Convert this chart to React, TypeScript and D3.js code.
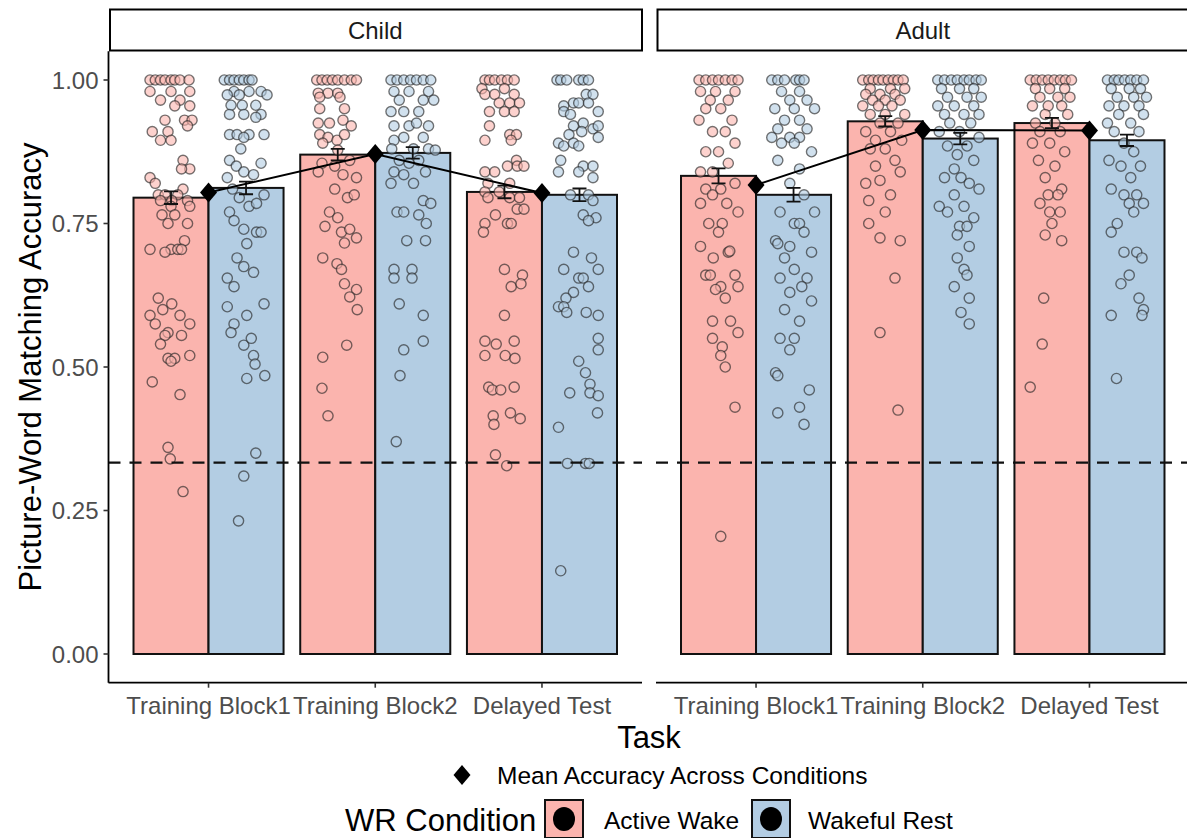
import React from "react";
import * as d3 from "d3";

// ---- data ----
const facets = ["Child", "Adult"];
const tasks = ["Training Block1", "Training Block2", "Delayed Test"];
const conditions = ["Active Wake", "Wakeful Rest"];
const conditionColors = ["#FBB4AE", "#B3CDE3"];

// condition means per task (Training Block1, Training Block2, Delayed Test)
const childActiveMean = [0.795, 0.87, 0.805];
const childRestMean = [0.812, 0.873, 0.8];
const adultActiveMean = [0.833, 0.928, 0.925];
const adultRestMean = [0.8, 0.898, 0.895];

// standard errors
const childActiveSE = [0.011, 0.01, 0.011];
const childRestSE = [0.011, 0.01, 0.011];
const adultActiveSE = [0.013, 0.009, 0.009];
const adultRestSE = [0.012, 0.01, 0.01];

// mean accuracy across conditions
const childOverallMean = [0.804, 0.871, 0.803];
const adultOverallMean = [0.817, 0.913, 0.912];

const chanceLevel = 1 / 3;
const yTicks = [0, 0.25, 0.5, 0.75, 1];

// participant scores: [jitter (fraction of bar width), accuracy]
type Pt = [number, number];

const childB1Active: Pt[] = [
  [-0.28, 1], [-0.21, 1], [-0.14, 1], [-0.08, 1], [0, 1], [0.05, 1], [0.12, 1], [0.24, 1],
  [-0.28, 0.98], [0, 0.98], [0.25, 0.98], [-0.14, 0.965], [0.12, 0.965], [0.25, 0.955], [0.05, 0.955],
  [-0.08, 0.93], [0.18, 0.93], [0.28, 0.93], [0.22, 0.92], [-0.25, 0.91], [-0.04, 0.91],
  [-0.14, 0.895], [0, 0.895], [0.16, 0.86], [0.25, 0.845], [0.14, 0.845], [-0.28, 0.83], [-0.21, 0.82],
  [0.16, 0.81], [-0.17, 0.8], [-0.08, 0.8], [0.09, 0.8], [0.01, 0.79], [0.22, 0.79], [-0.14, 0.79],
  [0, 0.78], [0.25, 0.78], [0.05, 0.765], [-0.12, 0.765], [-0.04, 0.75], [0.22, 0.75], [0.18, 0.72],
  [0, 0.705], [0.09, 0.705], [0.14, 0.705], [-0.28, 0.705], [-0.08, 0.7],
  [-0.17, 0.62], [0.01, 0.61], [-0.11, 0.6], [0.12, 0.59], [-0.28, 0.59], [-0.21, 0.575], [0.25, 0.575],
  [-0.04, 0.56], [-0.08, 0.555], [0.14, 0.555], [-0.14, 0.54], [0.25, 0.52], [-0.04, 0.515], [0.05, 0.515],
  [0, 0.51], [-0.25, 0.474], [0.12, 0.452], [-0.04, 0.36], [-0.01, 0.34], [0.16, 0.283],
];

const childB1Rest: Pt[] = [
  [-0.29, 1], [-0.22, 1], [-0.16, 1], [-0.09, 1], [-0.03, 1], [0.04, 1], [0.08, 1],
  [-0.16, 0.98], [0.2, 0.98], [0.04, 0.98], [-0.09, 0.974], [0.28, 0.974], [-0.25, 0.974],
  [-0.05, 0.956], [0.13, 0.956], [-0.2, 0.956], [-0.22, 0.94], [-0.03, 0.94], [0.2, 0.94], [0.13, 0.935],
  [-0.22, 0.905], [-0.12, 0.905], [0.04, 0.905], [0.24, 0.905], [-0.03, 0.9], [-0.07, 0.88],
  [-0.22, 0.86], [-0.13, 0.85], [-0.03, 0.84], [0.2, 0.855], [0.1, 0.835], [-0.25, 0.83],
  [-0.18, 0.81], [-0.09, 0.795], [0.24, 0.8], [0.04, 0.78], [0.14, 0.785], [-0.22, 0.77],
  [-0.16, 0.755], [-0.03, 0.74], [0.14, 0.735], [0.2, 0.735], [0.01, 0.715],
  [-0.12, 0.69], [-0.03, 0.675], [0.1, 0.665], [-0.25, 0.655], [-0.16, 0.64],
  [-0.25, 0.605], [0.24, 0.61], [0.01, 0.59], [-0.16, 0.575], [-0.2, 0.56],
  [-0.03, 0.538], [0.07, 0.55], [0.1, 0.52], [0.12, 0.505], [0.25, 0.485], [0.01, 0.48],
  [0.13, 0.35], [-0.03, 0.31], [-0.1, 0.232],
];

const childB2Active: Pt[] = [
  [-0.28, 1], [-0.21, 1], [-0.14, 1], [-0.07, 1], [0, 1], [0.09, 1], [0.18, 1], [0.25, 1],
  [-0.26, 0.977], [-0.13, 0.977], [0, 0.977], [-0.24, 0.97], [0.03, 0.97], [0.09, 0.95], [-0.24, 0.95],
  [-0.26, 0.925], [-0.11, 0.925], [0.07, 0.93], [0.18, 0.92],
  [-0.24, 0.905], [-0.13, 0.9], [-0.01, 0.895], [0.09, 0.905], [-0.2, 0.89], [0, 0.878],
  [-0.21, 0.855], [-0.04, 0.85], [0.16, 0.86], [-0.26, 0.84], [0.07, 0.835], [0.25, 0.83],
  [-0.04, 0.81], [0.13, 0.795], [0.22, 0.8], [-0.11, 0.77], [0, 0.76],
  [-0.17, 0.745], [0.05, 0.735], [0.16, 0.74], [0.25, 0.725], [0.09, 0.716],
  [-0.2, 0.69], [-0.01, 0.68], [0.05, 0.67], [0.09, 0.645], [0.25, 0.635], [0.16, 0.622], [0.26, 0.6],
  [0.12, 0.538], [-0.2, 0.517], [-0.21, 0.463], [-0.13, 0.415],
];

const childB2Rest: Pt[] = [
  [-0.29, 1], [-0.21, 1], [-0.12, 1], [-0.03, 1], [0.05, 1], [0.14, 1], [0.24, 1],
  [-0.25, 0.98], [-0.05, 0.98], [0.21, 0.98], [-0.18, 0.965], [0.14, 0.965], [0.28, 0.965],
  [-0.12, 0.945], [0.08, 0.945], [-0.29, 0.945], [-0.25, 0.92], [-0.05, 0.92], [0.21, 0.92], [0.05, 0.925],
  [-0.12, 0.9], [-0.25, 0.895], [0.14, 0.9], [-0.28, 0.88], [0.01, 0.88], [0.21, 0.88], [0.3, 0.878],
  [-0.18, 0.86], [0.08, 0.86], [-0.05, 0.855], [-0.25, 0.84], [-0.12, 0.835], [0.17, 0.84],
  [-0.29, 0.82], [0.01, 0.82], [0.14, 0.79], [0.24, 0.785], [-0.21, 0.77], [-0.12, 0.77], [0.08, 0.765],
  [0.18, 0.75], [-0.08, 0.72], [0.17, 0.72], [-0.25, 0.67], [-0.01, 0.67], [-0.25, 0.655], [-0.01, 0.655],
  [-0.18, 0.61], [0.14, 0.59], [0.14, 0.545], [-0.12, 0.53], [-0.17, 0.485], [-0.22, 0.37],
];

const childDelActive: Pt[] = [
  [-0.26, 1], [-0.2, 1], [-0.13, 1], [-0.04, 1], [0.04, 1], [0.13, 1],
  [-0.3, 0.985], [0, 0.985], [-0.26, 0.975], [-0.13, 0.975], [0.13, 0.975],
  [-0.07, 0.96], [0.07, 0.96], [0.2, 0.96], [0, 0.945], [0.13, 0.945], [-0.2, 0.945], [-0.2, 0.92],
  [0.07, 0.905], [0.16, 0.905], [-0.26, 0.895], [0.09, 0.895], [0.16, 0.86],
  [0.04, 0.85], [0.17, 0.85], [0.26, 0.85], [-0.26, 0.84], [-0.13, 0.84], [0.07, 0.82], [-0.22, 0.82],
  [-0.26, 0.805], [-0.07, 0.805], [-0.22, 0.795], [0.07, 0.795], [0.2, 0.795], [0.17, 0.775], [0.26, 0.775],
  [-0.12, 0.765], [-0.26, 0.75], [0.04, 0.75], [0.09, 0.75], [-0.28, 0.735],
  [0, 0.67], [0.24, 0.66], [0.09, 0.64], [0.22, 0.645], [0, 0.59],
  [-0.26, 0.545], [-0.11, 0.54], [0.13, 0.545], [-0.26, 0.52], [0.01, 0.52], [0.14, 0.515],
  [-0.21, 0.465], [-0.16, 0.46], [-0.05, 0.46], [0.13, 0.465],
  [-0.15, 0.415], [0.08, 0.42], [0.21, 0.41], [-0.14, 0.4], [-0.12, 0.347], [0.03, 0.328],
];

const childDelRest: Pt[] = [
  [-0.3, 1], [-0.25, 1], [-0.17, 1], [-0.01, 1], [0.05, 1], [0.12, 1],
  [0.09, 0.975], [0.18, 0.975], [-0.08, 0.96], [-0.01, 0.96], [-0.21, 0.955], [0.12, 0.96],
  [-0.21, 0.945], [0.25, 0.945], [-0.12, 0.94], [-0.08, 0.92], [0.05, 0.925], [0.18, 0.915], [0.25, 0.92],
  [0.03, 0.91], [-0.14, 0.905], [0.25, 0.9], [-0.28, 0.89], [-0.21, 0.885], [-0.08, 0.89], [-0.01, 0.885],
  [-0.25, 0.86], [0.05, 0.85], [0.18, 0.85], [-0.28, 0.84], [-0.01, 0.84], [0.18, 0.83],
  [-0.12, 0.8], [0.12, 0.8], [0.18, 0.79], [0.05, 0.765], [0.22, 0.76], [0.12, 0.755],
  [-0.08, 0.7], [0.16, 0.69], [-0.21, 0.67], [0.25, 0.67], [-0.01, 0.655], [0.05, 0.655],
  [0.12, 0.64], [-0.08, 0.63], [-0.18, 0.62], [-0.28, 0.605], [-0.21, 0.605],
  [-0.17, 0.595], [0.09, 0.595], [0.25, 0.59], [0.25, 0.55], [0.25, 0.53], [-0.01, 0.51],
  [0.08, 0.49], [0.14, 0.47], [-0.13, 0.455], [0.14, 0.455], [0.25, 0.45], [0.24, 0.42], [-0.28, 0.395],
  [-0.16, 0.332], [0.08, 0.332], [0.13, 0.332], [-0.25, 0.145],
];

const adultB1Active: Pt[] = [
  [-0.26, 1], [-0.17, 1], [-0.08, 1], [0, 1], [0.09, 1], [0.18, 1], [0.26, 1],
  [-0.24, 0.98], [-0.04, 0.98], [0.22, 0.98], [-0.11, 0.965], [0.13, 0.965], [0.03, 0.95], [-0.17, 0.95],
  [-0.26, 0.93], [0.18, 0.93], [-0.08, 0.91], [0.09, 0.91], [0.22, 0.89], [-0.17, 0.875], [0, 0.875],
  [0.13, 0.855], [-0.08, 0.84], [-0.24, 0.84], [0.22, 0.82], [-0.17, 0.81], [0.03, 0.81], [-0.08, 0.8],
  [-0.24, 0.785], [0.11, 0.785], [0.26, 0.77], [-0.13, 0.75], [0.05, 0.75], [0, 0.735],
  [-0.24, 0.71], [0.13, 0.7], [0.15, 0.702], [-0.07, 0.69], [-0.17, 0.66], [-0.11, 0.66], [0.22, 0.66],
  [0.03, 0.64], [0.26, 0.64], [-0.04, 0.635], [0.09, 0.62], [-0.08, 0.58], [0.16, 0.58], [0.26, 0.56],
  [-0.08, 0.55], [0.05, 0.535], [0.03, 0.52], [0.09, 0.5], [0.22, 0.43], [0.03, 0.205],
];

const adultB1Rest: Pt[] = [
  [-0.29, 1], [-0.21, 1], [-0.12, 1], [0.03, 1], [0.08, 1], [0.14, 1],
  [-0.16, 0.98], [0.08, 0.98], [-0.05, 0.965], [0.18, 0.965], [-0.25, 0.95], [0.01, 0.95], [0.28, 0.95],
  [-0.12, 0.93], [0.08, 0.93], [-0.21, 0.915], [0.18, 0.915], [-0.29, 0.9], [-0.05, 0.9], [0.08, 0.9],
  [-0.16, 0.89], [0.01, 0.89], [0.24, 0.875], [-0.21, 0.86], [0.08, 0.845], [-0.05, 0.82], [0.14, 0.8],
  [0.28, 0.77], [-0.18, 0.77], [0.01, 0.75], [0.08, 0.75], [0.14, 0.735], [-0.24, 0.72], [-0.21, 0.715],
  [-0.05, 0.71], [0.24, 0.7], [-0.12, 0.69], [0.01, 0.67], [-0.18, 0.655], [0.18, 0.655], [0.11, 0.64],
  [-0.05, 0.63], [0.24, 0.615], [-0.12, 0.6], [0.08, 0.58], [0.01, 0.55], [-0.18, 0.55], [-0.05, 0.53],
  [-0.24, 0.49], [-0.21, 0.485], [0.21, 0.46], [0.08, 0.43], [-0.21, 0.42], [0.14, 0.4],
];

const adultB2Active: Pt[] = [
  [-0.3, 1], [-0.22, 1], [-0.16, 1], [-0.09, 1], [-0.03, 1], [0.04, 1], [0.11, 1], [0.17, 1], [0.24, 1],
  [-0.2, 0.985], [0.07, 0.985], [0.26, 0.985], [-0.26, 0.975], [-0.07, 0.975], [0.13, 0.975],
  [0, 0.965], [0.2, 0.965], [-0.17, 0.965], [-0.3, 0.955], [0.09, 0.955], [-0.09, 0.955],
  [-0.2, 0.94], [0, 0.94], [0.26, 0.94], [-0.07, 0.925], [0.17, 0.925], [-0.26, 0.91], [0.07, 0.91],
  [-0.13, 0.895], [0.22, 0.895], [0, 0.88], [-0.2, 0.88], [0.13, 0.86], [-0.13, 0.85], [0.2, 0.84],
  [-0.07, 0.825], [-0.26, 0.82], [0.07, 0.8], [-0.22, 0.79], [0, 0.77], [-0.22, 0.75], [-0.07, 0.725],
  [0.2, 0.72], [0.13, 0.655], [-0.07, 0.56], [0.17, 0.425],
];

const adultB2Rest: Pt[] = [
  [-0.3, 1], [-0.21, 1], [-0.12, 1], [-0.04, 1], [0.05, 1], [0.12, 1], [0.21, 1], [0.28, 1],
  [-0.25, 0.985], [-0.01, 0.985], [0.18, 0.985], [-0.17, 0.97], [0.09, 0.97], [0.28, 0.97],
  [-0.3, 0.955], [-0.08, 0.955], [0.18, 0.955], [-0.21, 0.94], [0.05, 0.94], [0.25, 0.94],
  [-0.14, 0.925], [0.14, 0.925], [-0.28, 0.91], [-0.01, 0.91], [0.25, 0.9], [-0.17, 0.885], [0.09, 0.885],
  [-0.04, 0.87], [0.18, 0.86], [-0.08, 0.845], [0.01, 0.83], [-0.21, 0.83], [0.12, 0.82], [0.25, 0.81],
  [-0.08, 0.8], [-0.28, 0.78], [0.05, 0.78], [-0.17, 0.77], [0.18, 0.76], [-0.01, 0.745], [0.09, 0.745],
  [-0.04, 0.73], [0.12, 0.71], [-0.04, 0.69], [0.05, 0.67], [0.09, 0.66], [-0.08, 0.64], [0.12, 0.62],
  [0.01, 0.595], [0.12, 0.575],
];

const adultDelActive: Pt[] = [
  [-0.29, 1], [-0.21, 1], [-0.13, 1], [-0.05, 1], [0.03, 1], [0.11, 1], [0.18, 1], [0.26, 1],
  [-0.22, 0.985], [-0.03, 0.985], [0.17, 0.985], [-0.16, 0.97], [0.08, 0.97], [0.24, 0.97],
  [-0.26, 0.955], [-0.05, 0.955], [0.13, 0.955], [-0.09, 0.94], [0.21, 0.94], [-0.22, 0.925], [0.04, 0.925],
  [-0.16, 0.91], [0.11, 0.91], [-0.26, 0.89], [-0.03, 0.89], [0.17, 0.875], [-0.18, 0.86], [0.04, 0.85],
  [-0.09, 0.83], [0.13, 0.81], [-0.05, 0.8], [0.08, 0.8], [-0.16, 0.785], [-0.03, 0.77], [0.11, 0.77],
  [0, 0.75], [-0.09, 0.73], [0.13, 0.72], [-0.11, 0.62], [-0.13, 0.54], [-0.29, 0.465],
];

const adultDelRest: Pt[] = [
  [-0.26, 1], [-0.17, 1], [-0.11, 1], [-0.03, 1], [0.05, 1], [0.13, 1], [0.22, 1],
  [-0.21, 0.985], [0.03, 0.985], [0.18, 0.985], [-0.13, 0.97], [0.09, 0.97], [0.26, 0.97],
  [-0.24, 0.955], [-0.04, 0.955], [0.16, 0.955], [-0.11, 0.94], [0.22, 0.94], [0.05, 0.925], [-0.26, 0.925],
  [-0.17, 0.91], [0.16, 0.91], [-0.04, 0.89], [0.09, 0.875], [-0.24, 0.86], [-0.08, 0.85], [0.18, 0.85],
  [0.05, 0.83], [-0.21, 0.81], [-0.04, 0.8], [0.13, 0.8], [0.03, 0.785], [0.22, 0.785], [0.09, 0.77],
  [-0.13, 0.75], [-0.21, 0.735], [-0.04, 0.7], [0.13, 0.7], [0.2, 0.69], [0.03, 0.66], [-0.08, 0.645],
  [0.16, 0.62], [0.22, 0.6], [0.2, 0.59], [-0.21, 0.59], [-0.14, 0.48],
];

// facet -> condition -> task
const pointSets: Pt[][][][] = [
  [
    [childB1Active, childB2Active, childDelActive],
    [childB1Rest, childB2Rest, childDelRest],
  ],
  [
    [adultB1Active, adultB2Active, adultDelActive],
    [adultB1Rest, adultB2Rest, adultDelRest],
  ],
];
const barMeans = [
  [childActiveMean, childRestMean],
  [adultActiveMean, adultRestMean],
];
const barSE = [
  [childActiveSE, childRestSE],
  [adultActiveSE, adultRestSE],
];
const overallMeans = [childOverallMean, adultOverallMean];

// ---- layout ----
const W = 1187;
const H = 838;
const panels = [
  { left: 108.5, right: 642 },
  { left: 656, right: 1189.5 },
];
const panelTop = 51.3;
const panelBottom = 682.7;
const stripTop = 9.5;
const stripBottom = 50.5;
const FONT = "'Liberation Sans', Arial, Helvetica, sans-serif";
const GREY = "#4D4D4D";

const yScale = d3.scaleLinear().domain([-0.05, 1.05]).range([panelBottom, panelTop]);
const barWidth = 0.45;
const dodge = [-0.225, 0.225];

function diamondPath(cx: number, cy: number, r: number) {
  return `M${cx},${cy - r}L${cx + r * 0.85},${cy}L${cx},${cy + r}L${cx - r * 0.85},${cy}Z`;
}

function Panel({ fi }: { fi: number }) {
  const p = panels[fi];
  const x = d3.scaleLinear().domain([-0.6, 2.6]).range([p.left, p.right]);
  const bw = x(barWidth) - x(0);
  const line = d3
    .line<number>()
    .x((_, i) => x(i))
    .y((d) => yScale(d));
  const clipId = `clip-${fi}`;
  return (
    <g>
      <defs>
        <clipPath id={clipId}>
          <rect x={p.left} y={panelTop} width={p.right - p.left} height={panelBottom - panelTop} />
        </clipPath>
      </defs>
      {/* strip */}
      <rect
        x={p.left + 1.5}
        y={stripTop}
        width={p.right - p.left - 1.5}
        height={stripBottom - stripTop}
        fill="#fff"
        stroke="#000"
        strokeWidth={2}
      />
      <text
        x={(p.left + p.right) / 2}
        y={(stripTop + stripBottom) / 2 + 8.5}
        textAnchor="middle"
        fontSize={24}
        fill="#1A1A1A"
        fontFamily={FONT}
      >
        {facets[fi]}
      </text>

      <g clipPath={`url(#${clipId})`}>
        {/* bars */}
        {conditions.map((c, ci) =>
          tasks.map((t, ti) => {
            const cx = x(ti + dodge[ci]);
            const v = barMeans[fi][ci][ti];
            return (
              <rect
                key={`bar-${ci}-${ti}`}
                x={cx - bw / 2}
                y={yScale(v)}
                width={bw}
                height={yScale(0) - yScale(v)}
                fill={conditionColors[ci]}
                stroke="#111"
                strokeWidth={2}
              />
            );
          })
        )}
        {/* participant points */}
        {conditions.map((c, ci) =>
          tasks.map((t, ti) =>
            pointSets[fi][ci][ti].map(([j, v], k) => (
              <circle
                key={`pt-${ci}-${ti}-${k}`}
                cx={x(ti + dodge[ci] + j * barWidth)}
                cy={yScale(v)}
                r={5.1}
                fill={conditionColors[ci]}
                fillOpacity={0.6}
                stroke="#222"
                strokeOpacity={0.62}
                strokeWidth={1.4}
              />
            ))
          )
        )}
        {/* error bars */}
        {conditions.map((c, ci) =>
          tasks.map((t, ti) => {
            const cx = x(ti + dodge[ci]);
            const v = barMeans[fi][ci][ti];
            const se = barSE[fi][ci][ti];
            const y1 = yScale(v + se);
            const y0 = yScale(v - se);
            const hw = 7;
            return (
              <g key={`err-${ci}-${ti}`} stroke="#111" strokeWidth={1.8} fill="none">
                <line x1={cx} x2={cx} y1={y1} y2={y0} />
                <line x1={cx - hw} x2={cx + hw} y1={y1} y2={y1} />
                <line x1={cx - hw} x2={cx + hw} y1={y0} y2={y0} />
              </g>
            );
          })
        )}
        {/* chance line */}
        <line
          x1={p.left}
          x2={p.right}
          y1={yScale(chanceLevel)}
          y2={yScale(chanceLevel)}
          stroke="#111"
          strokeWidth={2.2}
          strokeDasharray="12 9"
        />
        {/* mean across conditions */}
        <path d={line(overallMeans[fi]) || ""} fill="none" stroke="#000" strokeWidth={2} />
        {overallMeans[fi].map((v, ti) => (
          <path key={`dm-${ti}`} d={diamondPath(x(ti), yScale(v), 10)} fill="#000" />
        ))}
      </g>

      {/* x axis */}
      <line x1={p.left} x2={p.right} y1={panelBottom} y2={panelBottom} stroke="#000" strokeWidth={1.8} />
      {tasks.map((t, ti) => (
        <g key={`xt-${ti}`}>
          <line x1={x(ti)} x2={x(ti)} y1={panelBottom} y2={panelBottom + 5} stroke="#333" strokeWidth={1.6} />
          <text
            x={x(ti)}
            y={panelBottom + 31}
            textAnchor="middle"
            fontSize={24}
            fill={GREY}
            fontFamily={FONT}
          >
            {t}
          </text>
        </g>
      ))}

      {/* y axis on the first facet */}
      {fi === 0 && (
        <g>
          <line x1={p.left} x2={p.left} y1={panelTop} y2={panelBottom} stroke="#000" strokeWidth={1.8} />
          {yTicks.map((v) => (
            <g key={`yt-${v}`}>
              <line x1={p.left - 5} x2={p.left} y1={yScale(v)} y2={yScale(v)} stroke="#333" strokeWidth={1.6} />
              <text
                x={p.left - 10}
                y={yScale(v) + 8.5}
                textAnchor="end"
                fontSize={24}
                fill={GREY}
                fontFamily={FONT}
              >
                {d3.format(".2f")(v)}
              </text>
            </g>
          ))}
        </g>
      )}
    </g>
  );
}

export default function App() {
  return (
    <svg
      width={W}
      height={H}
      viewBox={`0 0 ${W} ${H}`}
      style={{ position: "absolute", left: 0, top: 0, background: "#fff" }}
    >
      <rect width={W} height={H} fill="#fff" />
      {facets.map((f, fi) => (
        <Panel key={f} fi={fi} />
      ))}

      {/* axis titles */}
      <text
        x={(panels[0].left + panels[1].right) / 2}
        y={748}
        textAnchor="middle"
        fontSize={31}
        fill="#000"
        fontFamily={FONT}
      >
        Task
      </text>
      <text
        transform={`translate(41, ${(panelTop + panelBottom) / 2}) rotate(-90)`}
        textAnchor="middle"
        fontSize={31}
        fill="#000"
        fontFamily={FONT}
      >
        Picture-Word Matching Accuracy
      </text>

      {/* legend: mean marker */}
      <path d={diamondPath(462, 775, 10)} fill="#000" />
      <text x={497} y={784} fontSize={24.5} fill="#000" fontFamily={FONT}>
        Mean Accuracy Across Conditions
      </text>

      {/* legend: condition fill */}
      <text x={345} y={831} fontSize={31} fill="#000" fontFamily={FONT}>
        WR Condition
      </text>
      {conditions.map((c, ci) => {
        const kx = ci === 0 ? 545 : 752;
        const tx = ci === 0 ? 604 : 808;
        return (
          <g key={c}>
            <rect x={kx} y={800} width={38} height={38} fill={conditionColors[ci]} stroke="#111" strokeWidth={2} />
            <ellipse cx={kx + 19} cy={819} rx={11} ry={12} fill="#000" />
            <text x={tx} y={829} fontSize={24.5} fill="#000" fontFamily={FONT}>
              {c}
            </text>
          </g>
        );
      })}
    </svg>
  );
}
